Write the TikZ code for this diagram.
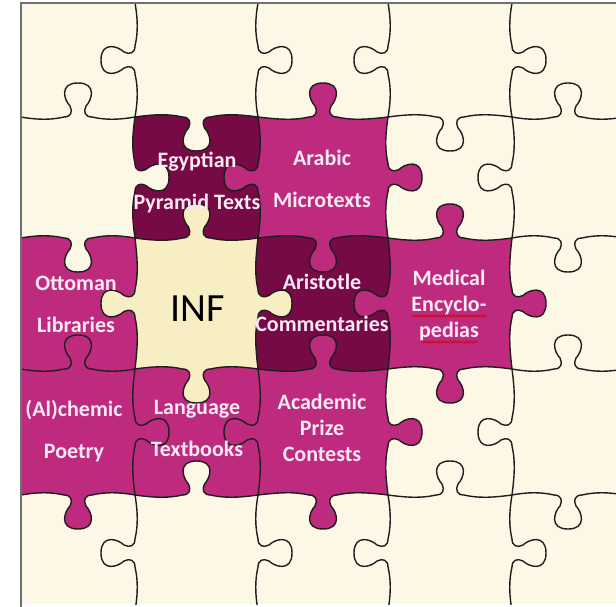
\documentclass[tikz,border=0pt]{standalone}
\usepackage{fontspec}
\setmainfont{Carlito}
\usetikzlibrary{calc,decorations.pathmorphing}
\definecolor{cream}{HTML}{FDF7E6}
\definecolor{infyellow}{HTML}{F8EEC4}
\definecolor{plum}{HTML}{760A45}
\definecolor{berry}{HTML}{BE2A7D}
\definecolor{pinktext}{HTML}{FAE8F5}
\definecolor{seamgray}{HTML}{1E1E1E}
\definecolor{framegray}{HTML}{707070}

\begin{document}
\begin{tikzpicture}[x=1pt,y=-1pt]
\tikzset{
  tab/.style={to path={
    coordinate (t_m) at ($(\tikztostart)!.5!(\tikztotarget)$)
    .. controls ($(t_m)!-40pt!(\tikztotarget)!-3pt!#1:(\tikztotarget)$) and ($(t_m)!-27pt!(\tikztotarget)!-3pt!#1:(\tikztotarget)$) .. ($(t_m)!-14pt!(\tikztotarget)$)
    .. controls ($(t_m)!-7pt!(\tikztotarget)$) and ($(t_m)!-5pt!(\tikztotarget)!5pt!#1:(\tikztotarget)$) .. ($(t_m)!-8pt!(\tikztotarget)!11pt!#1:(\tikztotarget)$)
    .. controls ($(t_m)!-14pt!(\tikztotarget)!17pt!#1:(\tikztotarget)$) and ($(t_m)!-19pt!(\tikztotarget)!34pt!#1:(\tikztotarget)$) .. ($(t_m)!34pt!#1:(\tikztotarget)$)
    .. controls ($(t_m)!19pt!(\tikztotarget)!34pt!#1:(\tikztotarget)$) and ($(t_m)!14pt!(\tikztotarget)!17pt!#1:(\tikztotarget)$) .. ($(t_m)!8pt!(\tikztotarget)!11pt!#1:(\tikztotarget)$)
    .. controls ($(t_m)!5pt!(\tikztotarget)!5pt!#1:(\tikztotarget)$) and ($(t_m)!7pt!(\tikztotarget)$) .. ($(t_m)!14pt!(\tikztotarget)$)
    .. controls ($(t_m)!27pt!(\tikztotarget)!-3pt!#1:(\tikztotarget)$) and ($(t_m)!40pt!(\tikztotarget)!-3pt!#1:(\tikztotarget)$) .. (\tikztotarget)
  }},
  seam/.style={draw=seamgray,line width=1.4pt,line join=round},
  lbl/.style={text=pinktext,font=\bfseries\fontsize{22}{42}\selectfont,align=center,inner sep=0pt},
  lblthree/.style={lbl,font=\bfseries\fontsize{22}{26}\selectfont},
  squiggle/.style={draw=red!85!black,line width=0.6pt,decorate,decoration={snake,amplitude=1.1pt,segment length=2.6pt}}
}
\useasboundingbox (0,0) rectangle (616,607);
\foreach \x [count=\i from 0] in {21,135,258,388,512,624}
  \foreach \y [count=\j from 0] in {3,117,238,369,495,611}
    \coordinate (c\j\i) at (\x,\y);
\coordinate (f_tl) at (21,3);
\coordinate (f_br) at (616,604);
\fill[cream] (f_tl) rectangle (f_br);
\begin{scope}
\clip (f_tl) rectangle (f_br);
\fill[plum] (c11) to[tab=-90] (c12) to[tab=-90] (c22) to[tab=-90] (c21) to[tab=-90] (c11) -- cycle;
\fill[berry] (c12) to[tab=90] (c13) to[tab=90] (c23) to[tab=90] (c22) to[tab=90] (c12) -- cycle;
\fill[berry] (c20) to[tab=-90] (c21) to[tab=-90] (c31) to[tab=-90] (c30) -- cycle;
\fill[infyellow] (c21) to[tab=90] (c22) to[tab=90] (c32) to[tab=90] (c31) to[tab=90] (c21) -- cycle;
\fill[plum] (c22) to[tab=-90] (c23) to[tab=-90] (c33) to[tab=-90] (c32) to[tab=-90] (c22) -- cycle;
\fill[berry] (c23) to[tab=90] (c24) to[tab=90] (c34) to[tab=90] (c33) to[tab=90] (c23) -- cycle;
\fill[berry] (c30) to[tab=90] (c31) to[tab=90] (c41) to[tab=90] (c40) -- cycle;
\fill[berry] (c31) to[tab=-90] (c32) to[tab=-90] (c42) to[tab=-90] (c41) to[tab=-90] (c31) -- cycle;
\fill[berry] (c32) to[tab=90] (c33) to[tab=90] (c43) to[tab=90] (c42) to[tab=90] (c32) -- cycle;
\draw[seam] (c01) to[tab=-90] (c11) to[tab=90] (c21) to[tab=-90] (c31) to[tab=90] (c41) to[tab=-90] (c51);
\draw[seam] (c02) to[tab=90] (c12) to[tab=-90] (c22) to[tab=90] (c32) to[tab=-90] (c42) to[tab=90] (c52);
\draw[seam] (c03) to[tab=-90] (c13) to[tab=90] (c23) to[tab=-90] (c33) to[tab=90] (c43) to[tab=-90] (c53);
\draw[seam] (c04) to[tab=90] (c14) to[tab=-90] (c24) to[tab=90] (c34) to[tab=-90] (c44) to[tab=90] (c54);
\draw[seam] (c10) to[tab=90] (c11) to[tab=-90] (c12) to[tab=90] (c13) to[tab=-90] (c14) to[tab=90] (c15);
\draw[seam] (c20) to[tab=-90] (c21) to[tab=90] (c22) to[tab=-90] (c23) to[tab=90] (c24) to[tab=-90] (c25);
\draw[seam] (c30) to[tab=90] (c31) to[tab=-90] (c32) to[tab=90] (c33) to[tab=-90] (c34) to[tab=90] (c35);
\draw[seam] (c40) to[tab=-90] (c41) to[tab=90] (c42) to[tab=-90] (c43) to[tab=90] (c44) to[tab=-90] (c45);
\end{scope}
\draw[framegray,line width=2pt] (21,607) -- (f_tl) -- (616,3);
\node[lbl] (p_egypt) at (197,182) {Egyptian\\Pyramid Texts};
\node[lbl] (p_arabic) at (322,179) {Arabic\\Microtexts};
\node[lbl] (p_ottoman) at (76,304) {Ottoman\\Libraries};
\node[font=\fontsize{40}{40}\selectfont,inner sep=0pt] (p_inf) at (198,309) {INF};
\node[lbl] (p_aristotle) at (322,303) {Aristotle\\Commentaries};
\node[lblthree] (p_medical) at (449,306) {Medical\\Encyclo-\\pedias};
\node[lbl] (p_alchemic) at (74,431) {(Al)chemic\\Poetry};
\node[lbl] (p_language) at (197,428) {Language\\Textbooks};
\node[lblthree] (p_academic) at (322,428) {Academic\\Prize\\Contests};
\draw[squiggle] (412,316) -- (487,316);
\draw[squiggle] (421,342) -- (478,342);
\end{tikzpicture}
\end{document}
